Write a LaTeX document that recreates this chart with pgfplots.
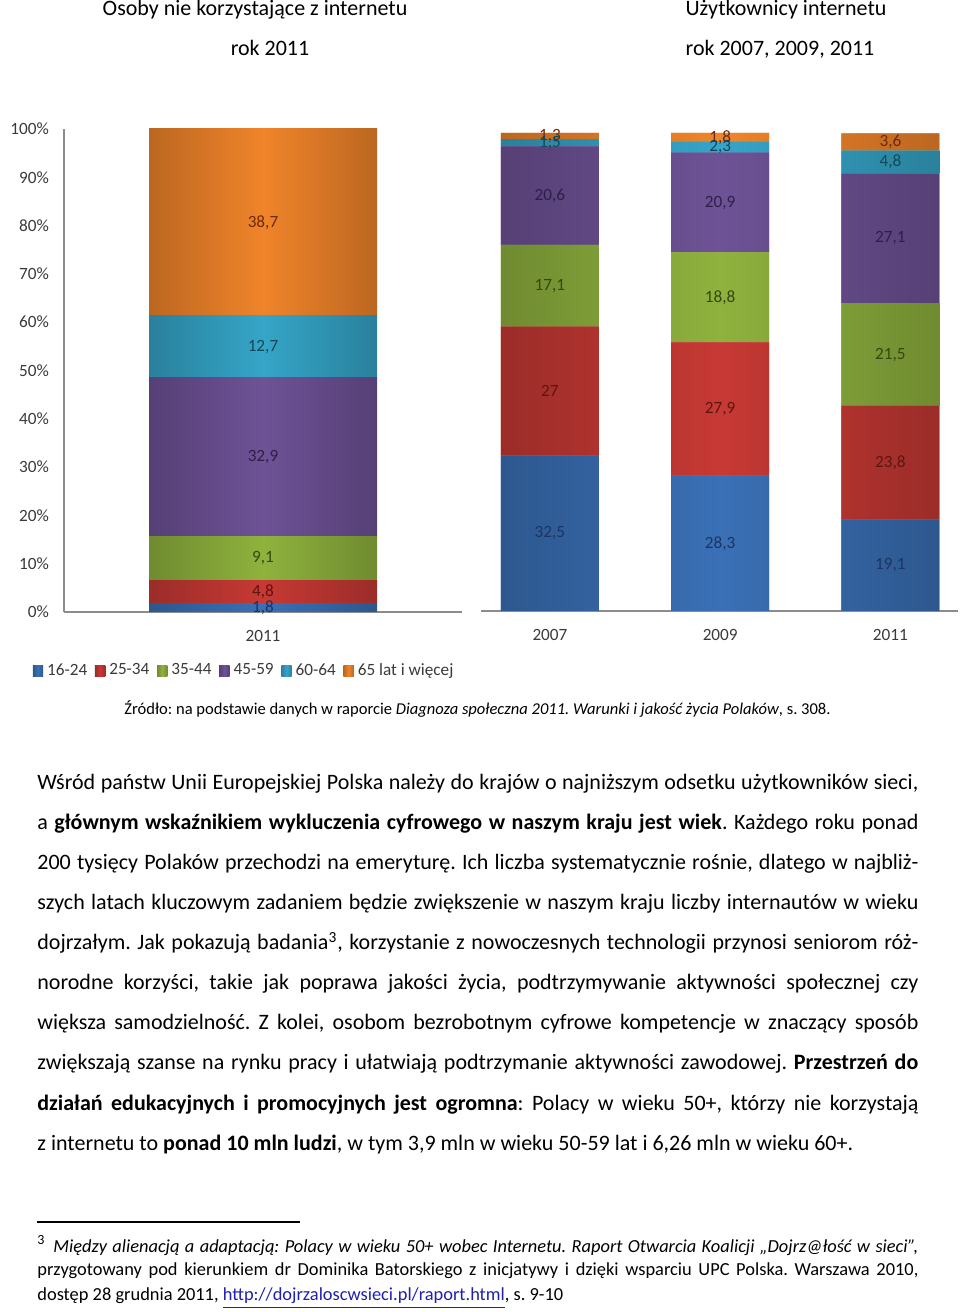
\documentclass[border=0pt]{standalone}
\usepackage{pgfplots}
\pgfplotsset{compat=1.18}
\usepackage{pgfplotstable}
\usepackage{fontspec}
\setmainfont{Carlito}
\frenchspacing
\definecolor{cA}{HTML}{3A70B6}
\definecolor{cB}{HTML}{C73934}
\definecolor{cC}{HTML}{8FB23E}
\definecolor{cD}{HTML}{6E5296}
\definecolor{cE}{HTML}{35A5C8}
\definecolor{cF}{HTML}{F0842A}
\definecolor{lA}{HTML}{1B3563}
\definecolor{lB}{HTML}{5E1512}
\definecolor{lC}{HTML}{34480F}
\definecolor{lD}{HTML}{2E1F47}
\definecolor{lE}{HTML}{12485A}
\definecolor{lF}{HTML}{6E2A0A}
\definecolor{tick}{HTML}{3A3A3A}
\definecolor{link}{HTML}{1F1FB0}

\pgfplotstableread{
x a b c d e f
0 1.8 4.8 9.1 32.9 12.7 38.7
}\leftdata
\pgfplotstableread{
x a b c d e f
0 32.5 27.0 17.1 20.6 1.5 1.3
1 28.3 27.9 18.8 20.9 2.3 1.8
2 19.1 23.8 21.5 27.1 4.8 3.6
}\rightdata

\pgfplotsset{
  seg/.style n args={2}{fill=#1, draw=none,
    left color=#1!78!black, right color=#1!78!black, middle color=#1,
    legend image code/.code={\fill[left color=#1!78!black, right color=#1!78!black, middle color=#1] (0pt,-2.6pt) rectangle (5.2pt,2.6pt);},
    nodes near coords={\pgfmathprintnumber{\pgfplotspointmeta}},
    every node near coord/.append style={anchor=center, text=#2,
      font=\fontsize{8.6}{10}\selectfont}
  },
  common/.style={
    scale only axis, ybar stacked, ymin=0, ymax=100,
    point meta=explicit,
    /pgf/number format/assume math mode=true,
    /pgf/number format/use comma,
    major tick length=0pt,
    tick label style={font=\fontsize{8.6}{10}\selectfont, text=tick},
    axis line style={draw=black!45, line width=0.6pt},
    clip=false,
  }
}

\begin{document}
\begin{tikzpicture}
\path[use as bounding box] (0,0) rectangle (480pt,656pt);

% titles
\node[anchor=base, font=\fontsize{11}{12}\selectfont] at (127.5pt,648pt) {Osoby nie korzystające z internetu};
\node[anchor=base, font=\fontsize{11}{12}\selectfont] at (135pt,628pt) {rok 2011};
\node[anchor=base, font=\fontsize{11}{12}\selectfont] at (393pt,648pt) {Użytkownicy internetu};
\node[anchor=base, font=\fontsize{11}{12}\selectfont] at (390pt,628pt) {rok 2007, 2009, 2011};

% left chart
\begin{axis}[common,
  at={(32pt,350pt)}, anchor=south west,
  width=199pt, height=241.5pt,
  xmin=-1, xmax=1, bar width=114pt,
  axis x line*=bottom, axis y line*=left,
  ytick={0,10,...,100},
  yticklabel={\pgfmathprintnumber{\tick}\%},
  yticklabel style={xshift=-4pt},
  xtick={0}, xticklabels={2011},
  xticklabel style={yshift=-5.5pt},
  legend columns=6,
  legend style={at={(0.455,-0.122)}, anchor=center, draw=none, fill=none,
    font=\fontsize{8.6}{10}\selectfont, text=tick,
    inner sep=0pt,
    /tikz/every even column/.append style={column sep=1.8pt}},
]
\addplot[seg={cA}{lA}] table[x=x, y=a, meta=a] {\leftdata};
\addplot[seg={cB}{lB}] table[x=x, y=b, meta=b] {\leftdata};
\addplot[seg={cC}{lC}] table[x=x, y=c, meta=c] {\leftdata};
\addplot[seg={cD}{lD}] table[x=x, y=d, meta=d] {\leftdata};
\addplot[seg={cE}{lE}] table[x=x, y=e, meta=e] {\leftdata};
\addplot[seg={cF}{lF}] table[x=x, y=f, meta=f] {\leftdata};
\legend{16-24, 25-34, 35-44, 45-59, 60-64, 65 lat i więcej}
\end{axis}

% right chart
\begin{axis}[common,
  at={(240.5pt,350.5pt)}, anchor=south west,
  width=238.5pt, height=239pt,
  xmin=-0.405, xmax=2.397, bar width=49pt,
  axis x line*=bottom, axis y line=none,
  xtick={0,1,2}, xticklabels={2007,2009,2011},
  xticklabel style={yshift=-5.5pt},
]
\addplot[seg={cA}{lA}] table[x=x, y=a, meta=a] {\rightdata};
\addplot[seg={cB}{lB}] table[x=x, y=b, meta=b] {\rightdata};
\addplot[seg={cC}{lC}] table[x=x, y=c, meta=c] {\rightdata};
\addplot[seg={cD}{lD}] table[x=x, y=d, meta=d] {\rightdata};
\addplot[seg={cE}{lE}] table[x=x, y=e, meta=e] {\rightdata};
\addplot[seg={cF}{lF}] table[x=x, y=f, meta=f] {\rightdata};
\end{axis}

% source
\node[anchor=base, font=\fontsize{8.27}{10}\selectfont] at (238.75pt,298.5pt) {Źródło: na podstawie danych w raporcie \textit{Diagnoza społeczna 2011. Warunki i jakość życia Polaków}, s. 308.};

% body text
\begin{scope}[every node/.style={anchor=base west, inner sep=0pt, font=\fontsize{11}{12}\selectfont}]
\node at (18.5pt,261pt) {\makebox[440.5pt][s]{Wśród państw Unii Europejskiej Polska należy do krajów o najniższym odsetku użytkowników sieci,}};
\node at (18.5pt,241pt) {\makebox[440.5pt][s]{a \textbf{głównym wskaźnikiem wykluczenia cyfrowego w naszym kraju jest wiek}. Każdego roku ponad}};
\node at (18.5pt,221pt) {\makebox[440.5pt][s]{200 tysięcy Polaków przechodzi na emeryturę. Ich liczba systematycznie rośnie, dlatego w najbliż-}};
\node at (18.5pt,201pt) {\makebox[440.5pt][s]{szych latach kluczowym zadaniem będzie zwiększenie w naszym kraju liczby internautów w wieku}};
\node at (18.5pt,181pt) {\makebox[440.5pt][s]{dojrzałym. Jak pokazują badania\textsuperscript{3}, korzystanie z nowoczesnych technologii przynosi seniorom róż-}};
\node at (18.5pt,161pt) {\makebox[440.5pt][s]{norodne korzyści, takie jak poprawa jakości życia, podtrzymywanie aktywności społecznej czy}};
\node at (18.5pt,141pt) {\makebox[440.5pt][s]{większa samodzielność. Z kolei, osobom bezrobotnym cyfrowe kompetencje w znaczący sposób}};
\node at (18.5pt,121pt) {\makebox[440.5pt][s]{zwiększają szanse na rynku pracy i ułatwiają podtrzymanie aktywności zawodowej. \textbf{Przestrzeń do}}};
\node at (18.5pt,100.5pt) {\makebox[440.5pt][s]{\textbf{działań edukacyjnych i promocyjnych jest ogromna}: Polacy w wieku 50+, którzy nie korzystają}};
\node at (18.5pt,80.5pt) {z internetu to \textbf{ponad 10 mln ludzi}, w tym 3,9 mln w wieku 50-59 lat i 6,26 mln w wieku 60+.};
\end{scope}

% footnote
\draw[line width=0.8pt] (18.5pt,45pt) -- (150pt,45pt);
\begin{scope}[every node/.style={anchor=base west, inner sep=0pt, font=\fontsize{9.2}{10}\selectfont}]
\node[font=\fontsize{7}{8}\selectfont] at (18.5pt,34pt) {3};
\node at (26.5pt,29.5pt) {\makebox[432.5pt][s]{\itshape Między alienacją a adaptacją: Polacy w wieku 50+ wobec Internetu. Raport Otwarcia Koalicji „Dojrz@łość w sieci”,}};
\node at (18.5pt,18pt) {\makebox[440.5pt][s]{przygotowany pod kierunkiem dr Dominika Batorskiego z inicjatywy i dzięki wsparciu UPC Polska. Warszawa 2010,}};
\node at (18.5pt,5.5pt) {dostęp 28 grudnia 2011, \textcolor{link}{\underline{http://dojrzaloscwsieci.pl/raport.html}}, s. 9-10};
\end{scope}
\end{tikzpicture}
\end{document}
